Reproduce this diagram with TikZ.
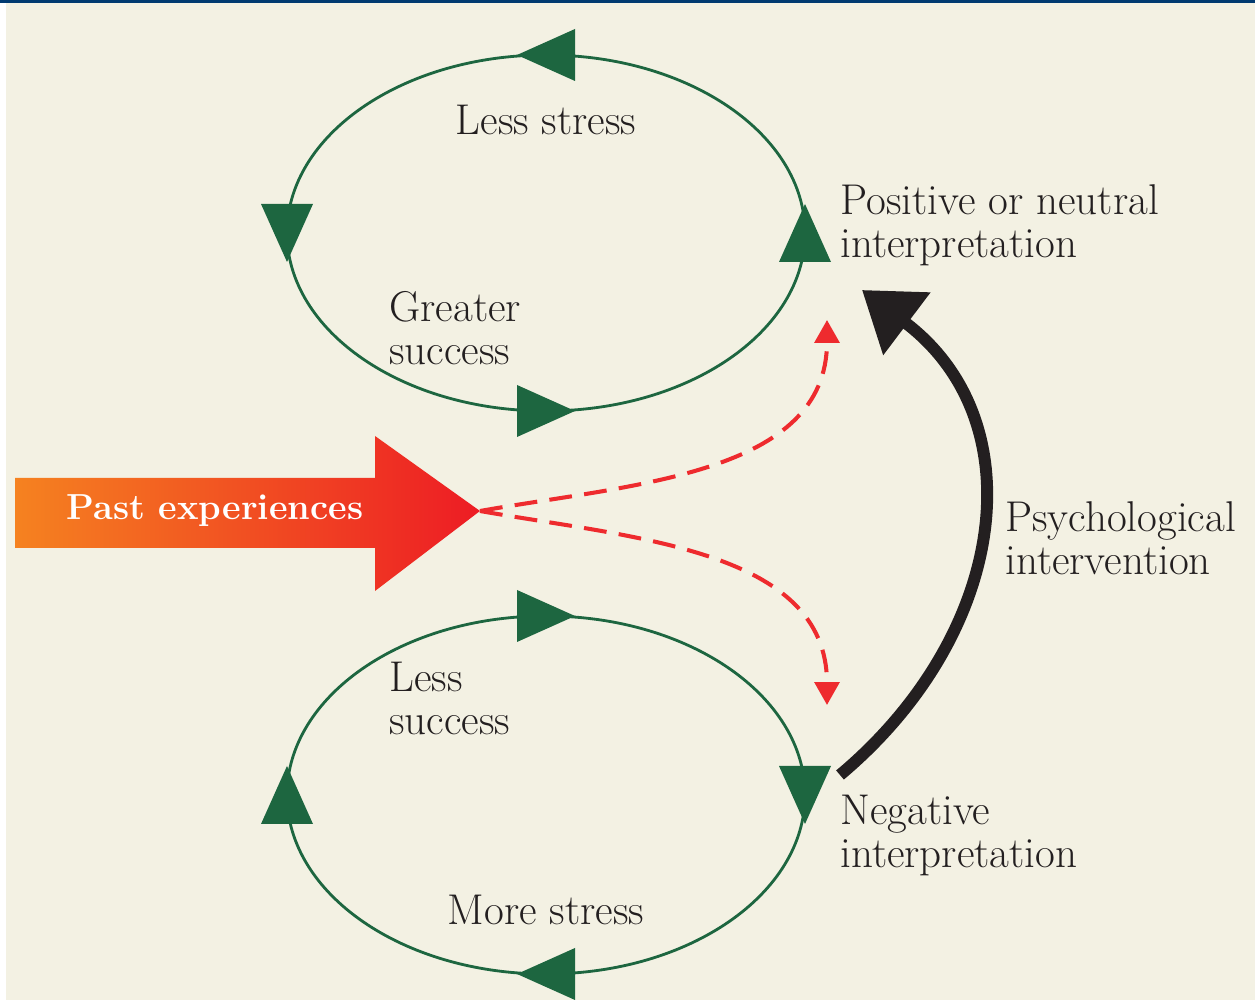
\documentclass[tikz,border=0pt]{standalone}
\usepackage{fontspec}
\usetikzlibrary{arrows.meta}
\definecolor{cream}{HTML}{F3F1E3}
\definecolor{navy}{HTML}{003A70}
\definecolor{loopgreen}{HTML}{1D6640}
\definecolor{dashred}{HTML}{EE2B2E}
\definecolor{pastorange}{HTML}{F58220}
\definecolor{pastred}{HTML}{ED1C24}
\definecolor{ink}{HTML}{231F20}
\begin{document}
\begin{tikzpicture}[x=0.02cm, y=0.02cm, inner sep=0pt,
    lbl/.style={text=ink, font=\fontsize{24.5}{25}\selectfont, align=left, anchor=base west},
    loopline/.style={draw=loopgreen, line width=1.6pt},
    dashlink/.style={draw=dashred, line width=2.3pt, dash pattern=on 13pt off 7pt, -{Triangle[length=13pt,width=14pt]}},
    helparrow/.style={draw=ink, line width=6.8pt, -{Triangle[length=32pt,width=43pt]}}]
   \useasboundingbox (0,0) rectangle (1255,1000);
   \fill[white] (0,0) rectangle (1255,1000);
   \fill[cream] (6,0) rectangle (1255,997);
   \fill[navy] (0,997) rectangle (1255,1000);
   \draw[loopline] (546,767) ellipse [x radius=259, y radius=178];
   \draw[loopline] (546,205) ellipse [x radius=259, y radius=179];
   \foreach \px/\py/\ang in {546/945/180, 287/767/-90, 546/589/0, 805/767/90,
                             546/384/0, 805/205/-90, 546/26/180, 287/205/90}
      \fill[loopgreen, shift={(\px,\py)}, rotate=\ang] (29,0) -- (-29,26) -- (-29,-26) -- cycle;
   \shade[left color=pastorange, right color=pastred] (15,452) -- (375,452) -- (375,409)
      -- (480,489) -- (375,564) -- (375,522) -- (15,522) -- cycle;
   \coordinate (pasttip) at (480,489);
   \node[text=white, font=\fontsize{20.6}{24}\selectfont\bfseries, anchor=base] (past) at (215,480) {Past experiences};
   \node[lbl, anchor=base] (lessstress) at (546,865) {Less stress};
   \node[lbl] (greater) at (389,635) {Greater\\success};
   \node[lbl] (positive) at (840,742) {Positive or neutral\\interpretation};
   \node[lbl] (psych) at (1005,425) {Psychological\\intervention};
   \node[lbl] (lesssuccess) at (389,265) {Less\\success};
   \node[lbl] (negative) at (840,132) {Negative\\interpretation};
   \node[lbl, anchor=base] (morestress) at (546,75) {More stress};
   \coordinate (posend) at (827,680);
   \coordinate (negend) at (827,295);
   \draw[dashlink] (pasttip) to[out=10, in=-90] (posend);
   \draw[dashlink] (pasttip) to[out=-10, in=90] (negend);
   \coordinate (helpstart) at (840,225);
   \coordinate (helpend) at (862,710);
   \draw[helparrow] (helpstart) to[out=40, in=-37, looseness=1.15] (helpend);
\end{tikzpicture}
\end{document}
